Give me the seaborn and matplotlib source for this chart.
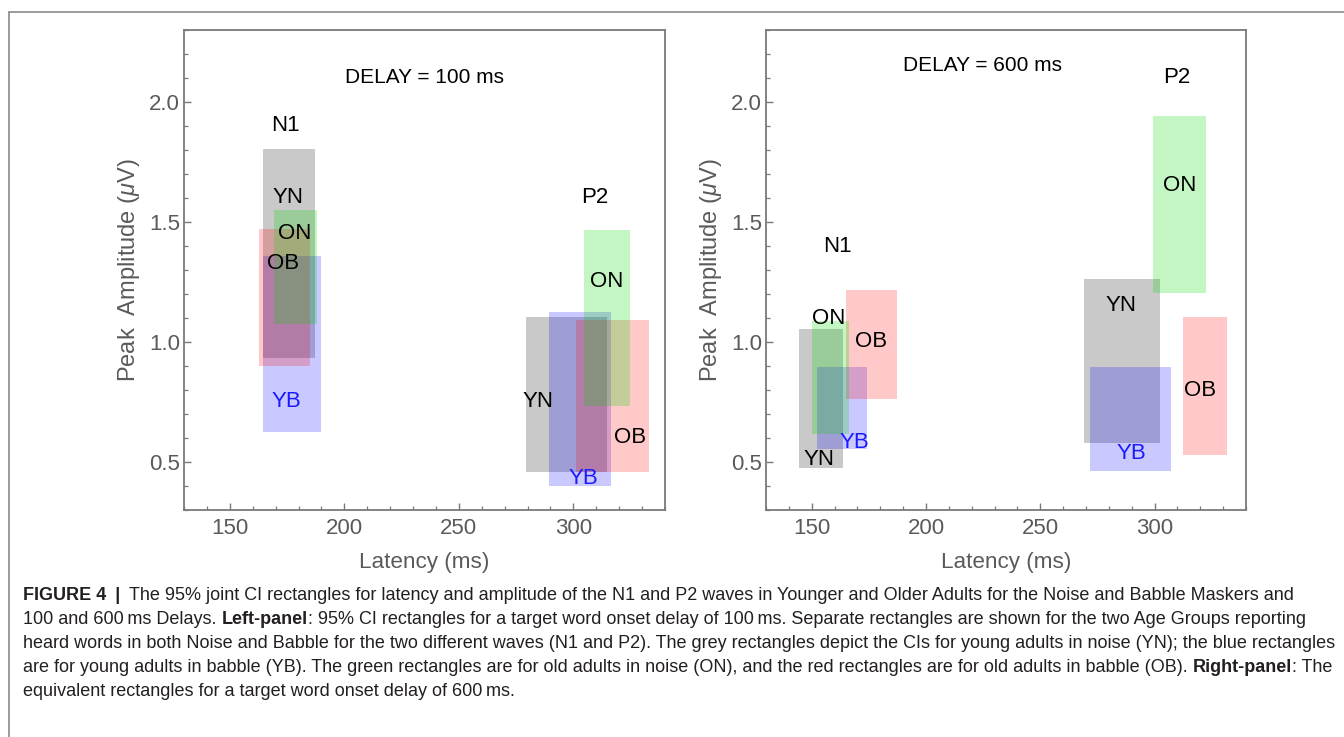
import numpy as np
import pandas as pd
import matplotlib
matplotlib.use("Agg")
import matplotlib.pyplot as plt
from matplotlib.lines import Line2D
from matplotlib.ticker import MultipleLocator
import seaborn as sns

# ---------------- data ----------------
groups = ["YN", "YB", "OB", "ON"]

# Delay = 100 ms, N1 wave
d100_n1_lat_lo = [164.5, 164.5, 162.6, 169.4]
d100_n1_lat_hi = [187.0, 189.9, 185.2, 188.0]
d100_n1_amp_lo = [0.935, 0.623, 0.898, 1.077]
d100_n1_amp_hi = [1.804, 1.358, 1.469, 1.550]
# Delay = 100 ms, P2 wave
d100_p2_lat_lo = [279.3, 289.3, 301.0, 304.5]
d100_p2_lat_hi = [314.5, 316.6, 333.1, 324.7]
d100_p2_amp_lo = [0.457, 0.402, 0.457, 0.733]
d100_p2_amp_hi = [1.105, 1.123, 1.090, 1.467]

# Delay = 600 ms, N1 wave
d600_n1_lat_lo = [144.3, 152.3, 164.9, 150.0]
d600_n1_lat_hi = [163.6, 174.3, 187.1, 166.2]
d600_n1_amp_lo = [0.475, 0.556, 0.764, 0.617]
d600_n1_amp_hi = [1.056, 0.895, 1.217, 1.086]
# Delay = 600 ms, P2 wave
d600_p2_lat_lo = [269.0, 271.9, 312.5, 299.5]
d600_p2_lat_hi = [302.3, 307.1, 331.8, 322.5]
d600_p2_amp_lo = [0.580, 0.464, 0.530, 1.203]
d600_p2_amp_hi = [1.263, 0.895, 1.105, 1.941]

# label anchor points (latency, amplitude) for group labels
d100_n1_lab_x = [175.5, 174.7, 173.4, 178.3]
d100_n1_lab_y = [1.604, 0.754, 1.326, 1.451]
d100_p2_lab_x = [284.6, 304.5, 324.6, 314.5]
d100_p2_lab_y = [0.751, 0.432, 0.602, 1.252]
d600_n1_lab_x = [153.1, 168.5, 175.8, 157.6]
d600_n1_lab_y = [0.512, 0.583, 1.001, 1.097]
d600_p2_lab_x = [285.2, 289.8, 320.1, 310.9]
d600_p2_lab_y = [1.154, 0.534, 0.798, 1.654]

panel_titles = ["DELAY = 100 ms", "DELAY = 600 ms"]
x_label = "Latency (ms)"
y_label = r"Peak  Amplitude ($\mu$V)"

caption_lines = [
    [("FIGURE 4\u2002|", "bold"),
     ("\u2002The 95% joint CI rectangles for latency and amplitude of the N1 and P2 waves in Younger and Older Adults for the Noise and Babble Maskers and", "normal")],
    [("100 and 600\u2009ms Delays. ", "normal"), ("Left-panel", "bold"),
     (": 95% CI rectangles for a target word onset delay of 100\u2009ms. Separate rectangles are shown for the two Age Groups reporting", "normal")],
    [("heard words in both Noise and Babble for the two different waves (N1 and P2). The grey rectangles depict the CIs for young adults in noise (YN); the blue rectangles", "normal")],
    [("are for young adults in babble (YB). The green rectangles are for old adults in noise (ON), and the red rectangles are for old adults in babble (OB). ", "normal"),
     ("Right-panel", "bold"), (": The", "normal")],
    [("equivalent rectangles for a target word onset delay of 600\u2009ms.", "normal")],
]

# ---------------- style ----------------
sns.set_theme(style="ticks")
FAM = ["Liberation Sans", "DejaVu Sans"]
plt.rcParams["font.family"] = FAM
plt.rcParams["mathtext.fontset"] = "custom"
plt.rcParams["mathtext.rm"] = "Liberation Sans"
plt.rcParams["mathtext.it"] = "Liberation Sans:italic"
plt.rcParams["mathtext.bf"] = "Liberation Sans:bold"

face = {"YN": ((0.5, 0.5, 0.5), 0.42), "YB": ((0.0, 0.0, 1.0), 0.21),
        "OB": ((1.0, 0.0, 0.0), 0.21), "ON": ((0.0, 0.85, 0.0), 0.23)}
txt_col = {"YN": "black", "YB": "#1a1aff", "OB": "black", "ON": "black"}
AX_GRAY = "#7a7a7a"
LAB_GRAY = "#5a5a5a"

W, H = 1344, 737
fig = plt.figure(figsize=(W / 100, H / 100), dpi=100)
fig.patch.set_facecolor("white")

ax_specs = [(184, 30, 665, 510), (766, 30, 1246, 510)]
axes = []
for (l, t, r, b) in ax_specs:
    axes.append(fig.add_axes([l / W, 1 - b / H, (r - l) / W, (b - t) / H]))


def draw_wave(ax, lat_lo, lat_hi, amp_lo, amp_hi, lab_x, lab_y):
    df = pd.DataFrame({"group": groups, "lo": lat_lo, "hi": lat_hi,
                       "alo": amp_lo, "ahi": amp_hi, "lx": lab_x, "ly": lab_y})
    for _, row in df.iterrows():
        c, a = face[row.group]
        ax.bar(row.lo, row.ahi - row.alo, width=row.hi - row.lo, bottom=row.alo,
               align="edge", color=c, alpha=a, linewidth=0, zorder=2)
    for _, row in df.iterrows():
        ax.text(row.lx, row.ly, row.group, ha="center", va="center", fontsize=16,
                color=txt_col[row.group], zorder=5)


panel_data = [
    [(d100_n1_lat_lo, d100_n1_lat_hi, d100_n1_amp_lo, d100_n1_amp_hi, d100_n1_lab_x, d100_n1_lab_y),
     (d100_p2_lat_lo, d100_p2_lat_hi, d100_p2_amp_lo, d100_p2_amp_hi, d100_p2_lab_x, d100_p2_lab_y)],
    [(d600_n1_lat_lo, d600_n1_lat_hi, d600_n1_amp_lo, d600_n1_amp_hi, d600_n1_lab_x, d600_n1_lab_y),
     (d600_p2_lat_lo, d600_p2_lat_hi, d600_p2_amp_lo, d600_p2_amp_hi, d600_p2_lab_x, d600_p2_lab_y)],
]
wave_label_pos = [[(174.2, 1.90), (309.4, 1.604)], [(161.2, 1.399), (309.7, 2.10)]]
title_pos = [(234.9, 2.10), (224.9, 2.151)]

for i, ax in enumerate(axes):
    for wave in panel_data[i]:
        draw_wave(ax, *wave)
    for name, (wx, wy) in zip(["N1", "P2"], wave_label_pos[i]):
        ax.text(wx, wy, name, ha="center", va="center", fontsize=16, color="black", zorder=5)
    tx, ty = title_pos[i]
    ax.text(tx, ty, panel_titles[i], ha="center", va="center", fontsize=15, color="black", zorder=5)

    ax.set_xlim(130, 340)
    ax.set_ylim(0.3, 2.3)
    ax.xaxis.set_major_locator(MultipleLocator(50))
    ax.xaxis.set_minor_locator(MultipleLocator(10))
    ax.yaxis.set_major_locator(MultipleLocator(0.5))
    ax.yaxis.set_minor_locator(MultipleLocator(0.1))
    ax.set_yticks([0.5, 1.0, 1.5, 2.0])
    ax.set_yticklabels(["0.5", "1.0", "1.5", "2.0"])
    ax.tick_params(which="both", direction="in", top=False, right=False,
                   color=AX_GRAY, labelcolor=LAB_GRAY, labelsize=16)
    ax.tick_params(which="major", length=5, width=1.0)
    ax.tick_params(which="minor", length=3, width=0.9)
    ax.tick_params(axis="x", which="major", pad=6)
    ax.tick_params(axis="y", which="major", pad=3)
    for sp in ax.spines.values():
        sp.set_color(AX_GRAY)
        sp.set_linewidth(1.3)
    ax.set_facecolor("white")
    ax.grid(False)
    ax.set_xlabel(x_label, fontsize=16.2, color=LAB_GRAY, labelpad=9)
    ax.set_ylabel(y_label, fontsize=17, color=LAB_GRAY, labelpad=5)

# outer frame lines
fig.add_artist(Line2D([9 / W, 1.0], [1 - 12 / H, 1 - 12 / H], color="#8a8a8a", lw=1.2))
fig.add_artist(Line2D([9 / W, 9 / W], [1 - 12 / H, 0.0], color="#8a8a8a", lw=1.2))

# caption with mixed weights; font size fitted so the widest line spans the text block
renderer = fig.canvas.get_renderer()
cap_x0 = 23
cap_y0 = 595
cap_dy = 24.0
base = 12.0
probe = fig.text(0, 0, caption_lines[2][0][0], fontsize=base, family=FAM)
pw = probe.get_window_extent(renderer).width
probe.remove()
cap_size = base * (1315.0 / pw)
for li, segs in enumerate(caption_lines):
    x = cap_x0
    y = cap_y0 + li * cap_dy
    for s, wgt in segs:
        t = fig.text(x / W, 1 - y / H, s, fontsize=cap_size, fontweight=wgt,
                     ha="left", va="center", color="#231f20", family=FAM)
        bb = t.get_window_extent(renderer)
        x += bb.width

fig.savefig("out.png", dpi=100, facecolor="white")
